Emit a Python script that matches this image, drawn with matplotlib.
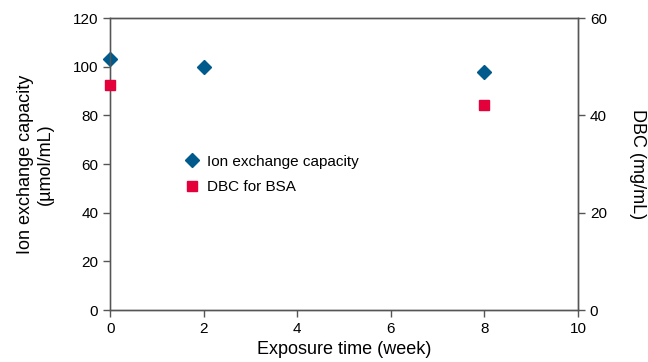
import matplotlib
matplotlib.use('Agg')
import matplotlib.pyplot as plt

weeks_iec = [0, 2, 8]
iec = [103, 100, 98]
weeks_dbc = [0, 8]
dbc = [46.2, 42.2]

blue = '#005a8b'
red = '#e4003a'

plt.rcParams['font.family'] = ['Liberation Sans', 'DejaVu Sans']

fig = plt.figure(figsize=(6.48, 3.62), dpi=100)
ax = fig.add_axes([0.17, 0.1436, 0.722, 0.8064])
ax2 = ax.twinx()

ax.plot(weeks_iec, iec, 'D', color=blue, markersize=7.5, clip_on=False, zorder=5,
        label='Ion exchange capacity')
ax2.plot(weeks_dbc, dbc, 's', color=red, markersize=7.5, clip_on=False, zorder=5,
         label='DBC for BSA')

ax.set_xlim(0, 10)
ax.set_ylim(0, 120)
ax2.set_ylim(0, 60)
ax.set_xticks(range(0, 11, 2))
ax.set_yticks(range(0, 121, 20))
ax2.set_yticks(range(0, 61, 20))

for a in (ax, ax2):
    for s in a.spines.values():
        s.set_color('#555555')
        s.set_linewidth(1.0)
    a.tick_params(labelsize=11, width=1.0, length=5, color='#555555')
ax.spines['left'].set_color('#888888')

ax.set_xlabel('Exposure time (week)', fontsize=13, labelpad=4)
ax.set_ylabel('Ion exchange capacity\n(µmol/mL)', fontsize=13, labelpad=14)
ax2.set_ylabel('DBC (mg/mL)', fontsize=13, rotation=270, labelpad=28)

h1, l1 = ax.get_legend_handles_labels()
h2, l2 = ax2.get_legend_handles_labels()
ax2.legend(h1 + h2, l1 + l2, loc='center left', bbox_to_anchor=(0.125, 0.465),
           frameon=False, fontsize=11, handletextpad=0.0, borderpad=0, labelspacing=0.75)

fig.savefig('out.png', dpi=100)
